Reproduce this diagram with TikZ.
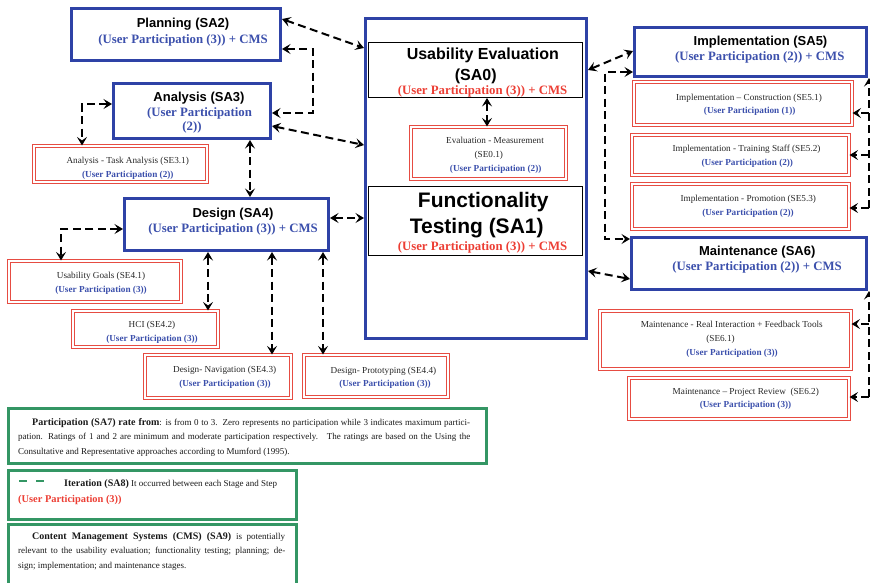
\documentclass[tikz,border=0pt]{standalone}
\usepackage{fontspec}
\setmainfont{Liberation Serif}
\newfontfamily\headfont{Liberation Sans}
\usetikzlibrary{arrows.meta}

\definecolor{stageblue}{RGB}{46,66,166}
\definecolor{textblue}{RGB}{60,80,172}
\definecolor{textred}{RGB}{236,62,52}
\definecolor{stepred}{RGB}{230,76,66}
\definecolor{notegreen}{RGB}{52,150,100}

\tikzset{
  stage/.style={draw=stageblue, line width=3pt, inner sep=0pt},
  core/.style={draw=black, line width=0.9pt, inner sep=0pt},
  stepbox/.style={draw=stepred, double=white, line width=1.1pt, double distance=1.3pt, inner sep=0pt},
  note/.style={draw=notegreen, line width=3.2pt, inner sep=0pt},
  conn/.style={line width=2pt, dash pattern=on 8pt off 4.5pt,
    >={Stealth[length=8.5pt,width=10pt,inset=3.5pt]}},
  ttl/.style={font={\fontsize{13}{15}\headfont\bfseries}, anchor=base, inner sep=0pt},
  bigttl/.style={font={\fontsize{16}{18}\headfont\bfseries}, anchor=base, inner sep=0pt},
  hugettl/.style={font={\fontsize{21}{24}\headfont\bfseries}, anchor=base, inner sep=0pt},
  part/.style={font={\fontsize{12.8}{15}\selectfont\bfseries}, text=textblue, anchor=base, inner sep=0pt},
  partred/.style={part, text=textred},
  small/.style={font={\fontsize{9.2}{11}\selectfont}, text=black!85, anchor=base, inner sep=0pt},
  smallpart/.style={font={\fontsize{9.2}{11}\selectfont\bfseries}, text=textblue, anchor=base, inner sep=0pt},
  para/.style={font={\fontsize{9}{14.5}\selectfont}, text=black!90, inner sep=0pt},
}
\newcommand{\bfpart}[1]{{\fontsize{10}{14.5}\selectfont\bfseries #1}}

\begin{document}
\begin{tikzpicture}[x=1pt,y=-1pt]
\useasboundingbox (0,0) rectangle (870,582);
\clip (0,0) rectangle (870,582);

% ---- stages (blue frames)
\node[stage, minimum width=209pt, minimum height=52pt] (sa2) at (176,34.5) {};
\node[stage, minimum width=157pt, minimum height=55pt] (sa3) at (192,111) {};
\node[stage, minimum width=204pt, minimum height=52pt] (sa4) at (226.5,224.5) {};
\node[stage, minimum width=221pt, minimum height=320pt] (big) at (476,178.5) {};
\node[stage, minimum width=232pt, minimum height=49pt] (sa5) at (750.5,52) {};
\node[stage, minimum width=235pt, minimum height=52pt] (sa6) at (749,263.5) {};

% ---- core stages inside the central frame
\node[core, minimum width=214pt, minimum height=55pt] (sa0) at (475.5,70) {};
\node[core, minimum width=214pt, minimum height=69pt] (sa1) at (475.5,221) {};

% ---- steps (double red frames)
\node[stepbox, minimum width=173pt, minimum height=36pt] (se31) at (120.5,164) {};
\node[stepbox, minimum width=172pt, minimum height=41pt] (se41) at (95,281.5) {};
\node[stepbox, minimum width=145pt, minimum height=36pt] (se42) at (145.5,329) {};
\node[stepbox, minimum width=146pt, minimum height=43pt] (se43) at (218,376.5) {};
\node[stepbox, minimum width=144pt, minimum height=42pt] (se44) at (376,376) {};
\node[stepbox, minimum width=155pt, minimum height=52pt] (se01) at (488.5,153) {};
\node[stepbox, minimum width=218pt, minimum height=43pt] (se51) at (743,103.5) {};
\node[stepbox, minimum width=217pt, minimum height=40pt] (se52) at (740.5,155) {};
\node[stepbox, minimum width=217pt, minimum height=45pt] (se53) at (740.5,206.5) {};
\node[stepbox, minimum width=251pt, minimum height=58pt] (se61) at (725.5,340) {};
\node[stepbox, minimum width=220pt, minimum height=41pt] (se62) at (739,398.5) {};

% ---- notes (green frames)
\node[note, minimum width=478pt, minimum height=55pt] (sa7) at (247.5,436) {};
\node[note, minimum width=288pt, minimum height=49pt] (sa8) at (152.5,495) {};
\node[note, minimum width=288pt, minimum height=76pt] (sa9) at (152.5,562.5) {};

% ---- stage texts
\node[ttl] (sa2-a) at (183,27) {Planning (SA2)};
\node[part] (sa2-b) at (183,43) {(User Participation (3)) + CMS};
\node[ttl] (sa3-a) at (199,101) {Analysis (SA3)};
\node[part] (sa3-b) at (199.5,116) {(User Participation};
\node[part] (sa3-c) at (192,130) {(2))};
\node[ttl] (sa4-a) at (233,217) {Design (SA4)};
\node[part] (sa4-b) at (233,232) {(User Participation (3)) + CMS};
\node[ttl] (sa5-a) at (760.5,45) {Implementation (SA5)};
\node[part] (sa5-b) at (759.7,60) {(User Participation (2)) + CMS};
\node[ttl] (sa6-a) at (757.3,255.7) {Maintenance (SA6)};
\node[part] (sa6-b) at (757,270) {(User Participation (2)) + CMS};

\node[bigttl] (sa0-a) at (482.8,59) {Usability Evaluation};
\node[bigttl] (sa0-b) at (475.8,80) {(SA0)};
\node[partred] (sa0-c) at (482.5,94) {(User Participation (3)) + CMS};
\node[hugettl] (sa1-a) at (483.3,207) {Functionality};
\node[hugettl] (sa1-b) at (476.7,233) {Testing (SA1)};
\node[partred] (sa1-c) at (482.5,250) {(User Participation (3)) + CMS};

% ---- step texts
\node[small] (se31-a) at (127.7,163) {Analysis - Task Analysis (SE3.1)};
\node[smallpart] (se31-b) at (127.8,177) {(User Participation (2))};
\node[small] (se41-a) at (101,278) {Usability Goals (SE4.1)};
\node[smallpart] (se41-b) at (101,292) {(User Participation (3))};
\node[small] (se42-a) at (152,327) {HCI (SE4.2)};
\node[smallpart] (se42-b) at (152,341) {(User Participation (3))};
\node[small] (se43-a) at (224.7,372) {Design- Navigation (SE4.3)};
\node[smallpart] (se43-b) at (225,386) {(User Participation (3))};
\node[small] (se44-a) at (383.5,373) {Design- Prototyping (SE4.4)};
\node[smallpart] (se44-b) at (385,386) {(User Participation (3))};
\node[small] (se01-a) at (495,143) {Evaluation - Measurement};
\node[small] (se01-b) at (488.8,157) {(SE0.1)};
\node[smallpart] (se01-c) at (495.7,171) {(User Participation (2))};
\node[small] (se51-a) at (749,100) {Implementation -- Construction (SE5.1)};
\node[smallpart] (se51-b) at (749.7,113) {(User Participation (1))};
\node[small] (se52-a) at (746.5,151.7) {Implementation - Training Staff (SE5.2)};
\node[smallpart] (se52-b) at (747.3,165.7) {(User Participation (2))};
\node[small] (se53-a) at (748.3,201.7) {Implementation - Promotion (SE5.3)};
\node[smallpart] (se53-b) at (748,215) {(User Participation (2))};
\node[small] (se61-a) at (731.8,327) {Maintenance - Real Interaction + Feedback Tools};
\node[small] (se61-b) at (720.5,341) {(SE6.1)};
\node[smallpart] (se61-c) at (732,355.7) {(User Participation (3))};
\node[small] (se62-a) at (745.8,394.3) {Maintenance -- Project Review~ (SE6.2)};
\node[smallpart] (se62-b) at (745.5,407.7) {(User Participation (3))};

% ---- note texts
\node[para, text width=452pt, align=justify, anchor=base west] (sa7-t) at (18,425)
  {\hspace*{14pt}\bfpart{Participation (SA7) rate from}: is from 0 to 3.\ \ Zero represents no participation while 3 indicates maximum partici-\linebreak
   pation. Ratings of 1 and 2 are minimum and moderate participation respectively.\ \ \ The ratings are based on the Using the\linebreak
   Consultative and Representative approaches according to Mumford (1995).};
\coordinate (dash-a) at (19,481);
\coordinate (dash-b) at (44,481);
\draw[notegreen, line width=2.2pt, dash pattern=on 8pt off 9pt] (dash-a) -- (dash-b);
\node[para, anchor=base west] (sa8-a) at (64,486) {\bfpart{Iteration (SA8)} It occurred between each Stage and Step};
\node[para, anchor=base west, font={\fontsize{10.4}{12}\selectfont\bfseries}, text=textred] (sa8-b) at (18,502) {(User Participation (3))};
\node[para, text width=267pt, align=justify, anchor=base west] (sa9-t) at (18,539)
  {\hspace*{14pt}\bfpart{Content Management Systems (CMS) (SA9)} is potentially\linebreak
   relevant to the usability evaluation; functionality testing; planning; de-\linebreak
   sign; implementation; and maintenance stages.};

% ---- iteration connectors, left side
\draw[conn,<->] (sa2.east |- 0,19) -- (big.west |- 0,48);
\draw[conn,<->] (sa2.east |- 0,49) -- ++(31,0) |- (sa3.east |- 0,113);
\draw[conn,<->] (sa3.east |- 0,126) -- (big.west |- 0,145);
\draw[conn,<->] (sa3.west |- 0,104) -| (se31.north -| 82,0);
\draw[conn,<->] (sa3.south -| 250,0) -- (sa4.north -| 250,0);
\draw[conn,<->] (sa4.east |- 0,218) -- (big.west |- 0,218);
\draw[conn,<->] (sa4.west |- 0,229) -| (se41.north -| 61,0);
\draw[conn,<->] (sa4.south -| 208,0) -- (se42.north -| 208,0);
\draw[conn,<->] (sa4.south -| 272,0) -- (se43.north -| 272,0);
\draw[conn,<->] (sa4.south -| 323,0) -- (se44.north -| 323,0);
\draw[conn,<->] (sa0.south -| 487,0) -- (se01.north -| 487,0);

% ---- iteration connectors, right side
\draw[conn,<->] (big.east |- 0,70) -- (sa5.west |- 0,51);
\draw[conn,<->] (sa5.west |- 0,72) -- ++(-28,0) |- (sa6.west |- 0,239);
\draw[conn,<->] (big.east |- 0,271) -- (sa6.west |- 0,279);

\coordinate (rail5) at (869,208);
\draw[conn,->] (rail5) -- (sa5.south -| rail5);
\draw[conn,->] (rail5 |- 0,113) -- (se51.east |- 0,113);
\draw[conn,->] (rail5 |- 0,155) -- (se52.east |- 0,155);
\draw[conn,->] (rail5) -- (se53.east |- rail5);

\coordinate (rail6) at (869,397);
\draw[conn,->] (rail6) -- (sa6.south -| rail6);
\draw[conn,->] (rail6 |- 0,324) -- (se61.east |- 0,324);
\draw[conn,->] (rail6) -- (se62.east |- rail6);
\end{tikzpicture}
\end{document}
